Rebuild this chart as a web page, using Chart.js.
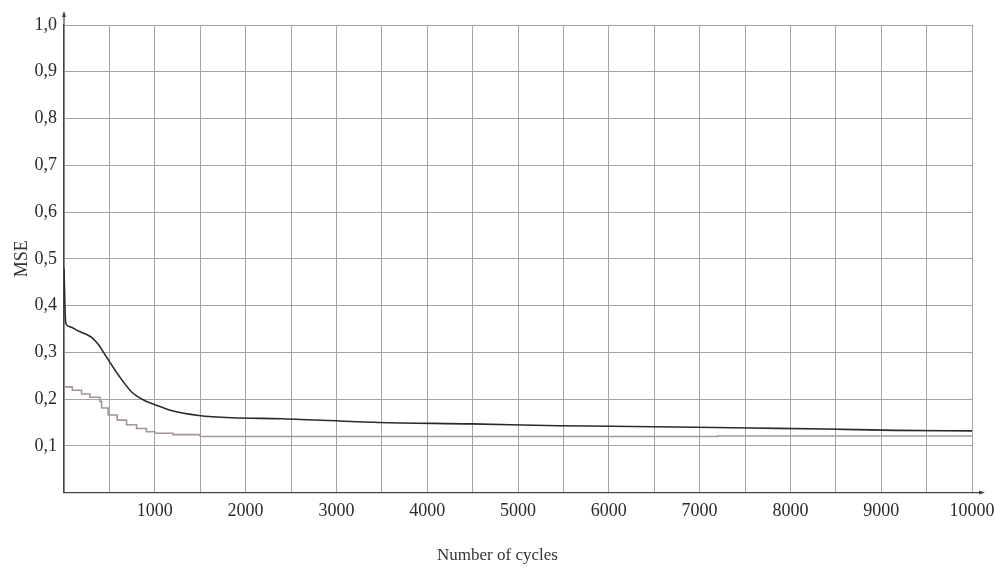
<!DOCTYPE html>
<html>
<head>
<meta charset="utf-8">
<script src="https://cdn.jsdelivr.net/npm/chart.js@4/dist/chart.umd.min.js"></script>
<style>
  html, body { margin: 0; padding: 0; background: #ffffff; }
  #wrap { width: 995px; height: 568px; position: relative; }
</style>
</head>
<body>
<div id="wrap"><canvas id="c" width="995" height="568"></canvas></div>
<script>
// ---- data ----
const trainCycles = [0, 10, 20, 60, 165, 250, 311, 385, 458, 604, 751, 897, 1000, 1190, 1484, 1850, 2400, 3460, 4490, 5450, 6030, 7560, 8380, 9160, 10000];
const trainMSE    = [0.479, 0.40, 0.362, 0.355, 0.345, 0.338, 0.331, 0.315, 0.293, 0.250, 0.214, 0.196, 0.188, 0.175, 0.165, 0.160, 0.158, 0.150, 0.147, 0.143, 0.142, 0.138, 0.136, 0.133, 0.132];

const stepCycles = [0, 92, 194, 286, 396, 414, 487, 586, 689, 799, 908, 1000, 1200, 1500, 7200, 10000];
const stepMSE    = [0.226, 0.219, 0.211, 0.204, 0.195, 0.181, 0.166, 0.155, 0.145, 0.137, 0.130, 0.127, 0.124, 0.120, 0.121, 0.121];

const xMin = 0, xMax = 10000, xGridStep = 500, xLabelStep = 1000;
const yMin = 0, yMax = 1.0, yStep = 0.1;
const xTitle = 'Number of cycles';
const yTitle = 'MSE';

const toPoints = (xs, ys) => xs.map((x, i) => ({ x: x, y: ys[i] }));

const serif = "'Liberation Serif', 'DejaVu Serif', serif";

const arrowPlugin = {
  id: 'axisArrows',
  afterDraw(chart) {
    const { ctx, chartArea } = chart;
    const x0 = chart.scales.x.getPixelForValue(xMin);
    const y0 = chart.scales.y.getPixelForValue(yMin);
    ctx.save();
    ctx.strokeStyle = '#444';
    ctx.fillStyle = '#444';
    ctx.lineWidth = 1.2;
    // y axis arrow
    ctx.beginPath();
    ctx.moveTo(x0, chartArea.top);
    ctx.lineTo(x0, chartArea.top - 12);
    ctx.stroke();
    ctx.beginPath();
    ctx.moveTo(x0, chartArea.top - 14);
    ctx.lineTo(x0 - 2, chartArea.top - 8);
    ctx.lineTo(x0 + 2, chartArea.top - 8);
    ctx.closePath();
    ctx.fill();
    // x axis arrow
    ctx.beginPath();
    ctx.moveTo(chartArea.right, y0);
    ctx.lineTo(chartArea.right + 11, y0);
    ctx.stroke();
    ctx.beginPath();
    ctx.moveTo(chartArea.right + 13, y0);
    ctx.lineTo(chartArea.right + 7, y0 - 2);
    ctx.lineTo(chartArea.right + 7, y0 + 2);
    ctx.closePath();
    ctx.fill();
    ctx.restore();
  }
};

new Chart(document.getElementById('c'), {
  type: 'line',
  data: {
    datasets: [
      {
        label: 'train',
        data: toPoints(trainCycles, trainMSE),
        borderColor: '#2a2a2a',
        borderWidth: 1.6,
        pointRadius: 0,
        fill: false,
        cubicInterpolationMode: 'monotone'
      },
      {
        label: 'step',
        data: toPoints(stepCycles, stepMSE),
        borderColor: '#a3969b',
        borderWidth: 1.6,
        pointRadius: 0,
        fill: false,
        stepped: true
      }
    ]
  },
  options: {
    responsive: false,
    animation: false,
    devicePixelRatio: 1,
    layout: { padding: { left: 0, right: 0, top: 25, bottom: 0 } },
    plugins: {
      legend: { display: false },
      tooltip: { enabled: false },
      title: {
        display: true,
        text: xTitle,
        position: 'bottom',
        color: '#333',
        font: { family: serif, size: 17, weight: 'normal' },
        padding: { top: 10, bottom: 2 }
      }
    },
    scales: {
      x: {
        type: 'linear',
        min: xMin,
        max: xMax,
        afterFit: (s) => { s.height = 43; s.paddingRight = 23; s.paddingLeft = 0; },
        ticks: {
          stepSize: xGridStep,
          autoSkip: false,
          maxRotation: 0,
          padding: 8,
          color: '#2a2a2a',
          font: { family: serif, size: 18 },
          callback: (v) => (v !== 0 && v % xLabelStep === 0) ? String(v) : ''
        },
        grid: { color: '#a4a4a4', lineWidth: 1, drawTicks: false },
        border: { color: '#444', width: 1.3 }
      },
      y: {
        type: 'linear',
        min: yMin,
        max: yMax,
        afterFit: (s) => { s.width = 64; },
        ticks: {
          stepSize: yStep,
          padding: 7,
          color: '#2a2a2a',
          font: { family: serif, size: 18 },
          callback: (v) => {
            const r = Math.round(v * 10) / 10;
            return r === 0 ? '' : r.toFixed(1).replace('.', ',');
          }
        },
        grid: { color: '#a4a4a4', lineWidth: 1, drawTicks: false },
        border: { color: '#444', width: 1.3 },
        title: {
          display: true,
          text: yTitle,
          color: '#333',
          font: { family: serif, size: 18, weight: 'normal' },
          padding: { top: 11, bottom: 0 }
        }
      }
    }
  },
  plugins: [arrowPlugin]
});
</script>
</body>
</html>
